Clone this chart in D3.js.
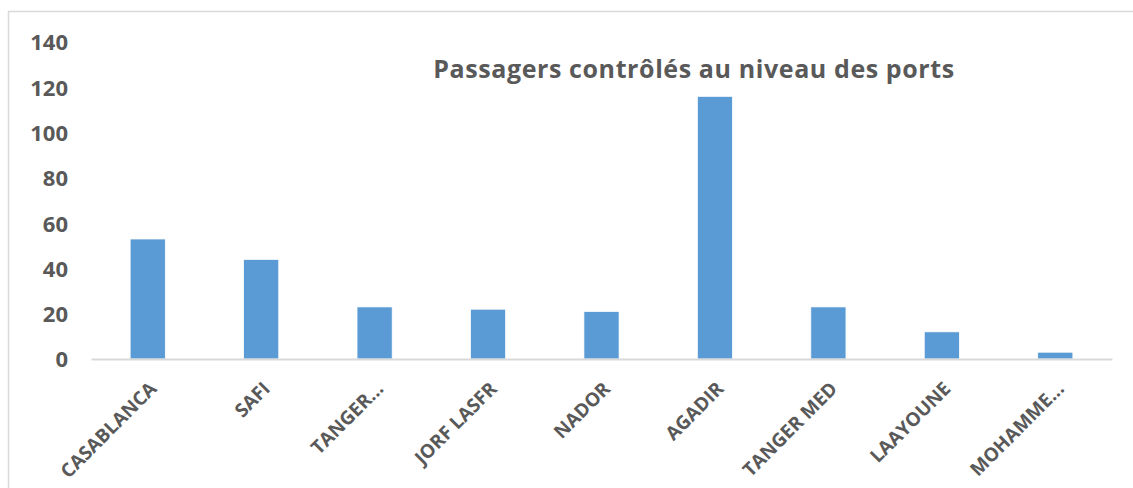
<!DOCTYPE html>
<html>
<head>
<meta charset="utf-8">
<script src="https://cdn.jsdelivr.net/npm/d3@7"></script>
<style>
  html, body { margin: 0; padding: 0; background: #fff; }
  svg { display: block; }
</style>
</head>
<body>
<svg id="chart" width="1133" height="488"></svg>
<script>
const categories = ["CASABLANCA", "SAFI", "TANGER...", "JORF LASFR", "NADOR", "AGADIR", "TANGER MED", "LAAYOUNE", "MOHAMME..."];
const values = [53, 44, 23, 22, 21, 116, 23, 12, 3];
const yTicks = [0, 20, 40, 60, 80, 100, 120, 140];
const title = "Passagers contrôlés au niveau des ports";

const m = { left: 91, right: 1112, top: 42, bottom: 359 };
const svg = d3.select("#chart");
const font = "'Open Sans', sans-serif";
const textColor = "#595959";

// outer chart border
svg.append("rect")
  .attr("x", 8.5).attr("y", 11.5)
  .attr("width", 1200).attr("height", 600)
  .attr("fill", "none").attr("stroke", "#D9D9D9").attr("stroke-width", 1.5);

const x = d3.scaleBand().domain(categories).range([m.left, m.right])
  .paddingInner(0.69).paddingOuter(0.345);
const y = d3.scaleLinear().domain([0, 140]).range([m.bottom, m.top]);

// y axis labels (no line)
const yAxis = d3.axisLeft(y).tickValues(yTicks).tickSize(0).tickPadding(0);
const gy = svg.append("g").attr("transform", "translate(68,0)").call(yAxis);
gy.select(".domain").remove();
gy.selectAll("text")
  .attr("fill", textColor).attr("font-family", font)
  .attr("font-weight", "bold").attr("font-size", 22)
  .attr("dy", "0.36em");

// bars
svg.append("g").selectAll("rect").data(values).join("rect")
  .attr("x", (d, i) => x(categories[i]))
  .attr("width", x.bandwidth())
  .attr("y", d => y(d))
  .attr("height", d => y(0) - y(d))
  .attr("fill", "#5B9BD5")
  .attr("stroke", "#fff").attr("stroke-width", 0.75);

// x axis
const xAxis = d3.axisBottom(x).tickSize(0).tickPadding(0);
const gx = svg.append("g").attr("transform", `translate(0,${m.bottom})`).call(xAxis);
gx.select(".domain").attr("stroke", "#D9D9D9").attr("stroke-width", 2);
gx.selectAll("text")
  .attr("fill", textColor).attr("font-family", font)
  .attr("font-weight", "bold").attr("font-size", 19)
  .attr("text-anchor", "end")
  .attr("dy", null)
  .attr("transform", "translate(10,31) rotate(-45)");

// title
svg.append("text")
  .attr("x", 694).attr("y", 78)
  .attr("text-anchor", "middle")
  .attr("font-family", font).attr("font-weight", "bold")
  .attr("font-size", 25).attr("letter-spacing", 0.6)
  .attr("fill", textColor)
  .text(title);
</script>
</body>
</html>
